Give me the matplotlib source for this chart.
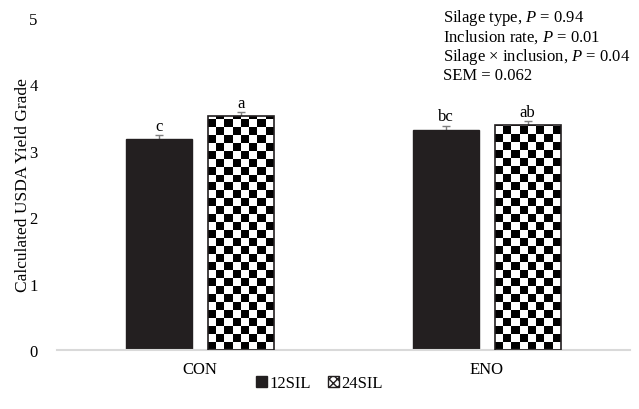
import numpy as np
import matplotlib
matplotlib.use("Agg")
import matplotlib.pyplot as plt
from matplotlib.patches import Patch

categories = ["CON", "ENO"]
series = ["12SIL", "24SIL"]
values_12 = [3.18, 3.32]
values_24 = [3.52, 3.39]
err_12 = [0.06, 0.06]
err_24 = [0.06, 0.06]
letters_12 = ["c", "bc"]
letters_24 = ["a", "ab"]
yticks = [0, 1, 2, 3, 4, 5]
stats_text = ["Silage type, $\\it{P}$ = 0.94",
              "Inclusion rate, $\\it{P}$ = 0.01",
              "Silage \u00d7 inclusion, $\\it{P}$ = 0.04",
              "SEM = 0.062"]

plt.rcParams['font.family'] = ['Liberation Serif', 'DejaVu Serif']
plt.rcParams['mathtext.fontset'] = 'custom'
plt.rcParams['mathtext.it'] = 'Liberation Serif:italic'
plt.rcParams['mathtext.rm'] = 'Liberation Serif'

FS = 12

fig = plt.figure(figsize=(6.39, 4.10), dpi=100)
ax = fig.add_axes([0.0892, 0.1439, 0.8967, 0.8098])

x = np.arange(len(categories))
bw = 0.23
gap = 0.056
off = (bw + gap) / 2

b1 = ax.bar(x - off, values_12, bw, color='#231f20', edgecolor='#231f20', zorder=2)
b2 = ax.bar(x + off, values_24, bw, color='white', edgecolor='#231f20', linewidth=1.2, zorder=3)

ax.errorbar(x - off, values_12, yerr=err_12, fmt='none', ecolor='#7f7f7f',
            elinewidth=1, capsize=3, capthick=1, zorder=1.5)
ax.errorbar(x + off, values_24, yerr=err_24, fmt='none', ecolor='#7f7f7f',
            elinewidth=1, capsize=3, capthick=1, zorder=1.5)

ax.set_xlim(-0.5, 1.5)
ax.set_ylim(0, 5)

# checkerboard fill for 24SIL bars
cell_h = 0.12
for rect in b2:
    x0, y0 = rect.get_x(), rect.get_y()
    w, h = rect.get_width(), rect.get_height()
    nx = 8
    ny = int(np.ceil(h / cell_h))
    board = (np.indices((ny, nx)).sum(axis=0) % 2).astype(float)
    im = ax.imshow(board, cmap='gray', vmin=0, vmax=1, interpolation='nearest',
                   extent=(x0, x0 + w, y0 + ny * cell_h, y0), origin='upper',
                   aspect='auto', zorder=2.5)
    im.set_clip_path(rect)
    rect.set_facecolor('none')

ax.set_xlim(-0.5, 1.5)
ax.set_ylim(0, 5)

for xi, v, e, t in zip(x - off, values_12, err_12, letters_12):
    ax.text(xi, v + e + 0.02, t, ha='center', va='bottom', fontsize=FS)
for xi, v, e, t in zip(x + off, values_24, err_24, letters_24):
    ax.text(xi, v + e + 0.02, t, ha='center', va='bottom', fontsize=FS)

ax.set_yticks(yticks)
ax.set_yticklabels([str(t) for t in yticks], fontsize=FS)
ax.set_xticks(x)
ax.set_xticklabels(categories, fontsize=FS)
ax.tick_params(axis='y', length=0, pad=14)
ax.tick_params(axis='x', length=0, pad=8)
for s in ['top', 'right', 'left']:
    ax.spines[s].set_visible(False)
ax.spines['bottom'].set_color('#d9d9d9')
ax.spines['bottom'].set_linewidth(1.5)
ax.set_ylabel("Calculated USDA Yield Grade", fontsize=12.5, labelpad=-1)

for i, line in enumerate(stats_text):
    fig.text(0.693, 0.955 - i * 0.0465, line, fontsize=FS, ha='left', va='center')

handles = [Patch(facecolor='#231f20', edgecolor='#231f20'),
           Patch(facecolor='white', edgecolor='#231f20', hatch='xxxx')]
fig.legend(handles, series, loc='center', bbox_to_anchor=(0.5, 0.063), ncol=2,
           frameon=False, fontsize=FS, handlelength=0.65, handleheight=0.65,
           handletextpad=0.15, columnspacing=1.0)

fig.savefig("out.png", dpi=100)
